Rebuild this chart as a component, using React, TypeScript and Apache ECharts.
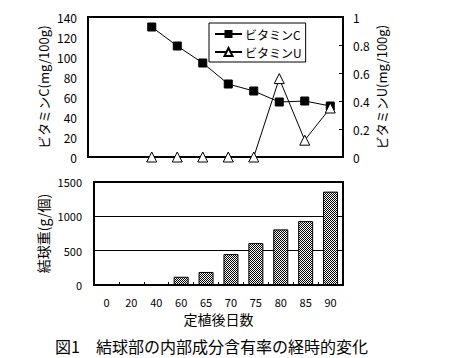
import React, { useEffect, useRef } from 'react';
import * as echarts from 'echarts';

const days = ['0', '20', '40', '60', '65', '70', '75', '80', '85', '90'];
const vitaminC = [null, null, 130, 111, 94, 73, 66, 55, 56, 51];
const vitaminU = [null, null, 0, 0, 0, 0, 0, 0.56, 0.12, 0.35];
const headWeight = [null, null, null, 120, 190, 450, 610, 810, 930, 1360];
const seriesNames = ['ビタミンC', 'ビタミンU'];
const titleText = '図1　結球部の内部成分含有率の経時的変化';

const FONT = '"Noto Sans CJK JP", "Liberation Sans", sans-serif';

function makePattern() {
  const c = document.createElement('canvas');
  c.width = 2;
  c.height = 2;
  const ctx = c.getContext('2d');
  if (ctx) {
    ctx.fillStyle = '#ffffff';
    ctx.fillRect(0, 0, 2, 2);
    ctx.fillStyle = '#000000';
    ctx.fillRect(0, 0, 1, 1);
    ctx.fillRect(1, 1, 1, 1);
  }
  return c;
}

export default function App() {
  const ref = useRef<HTMLDivElement>(null);
  useEffect(() => {
    if (!ref.current) return;
    const chart = echarts.init(ref.current, null, { renderer: 'svg' });
    const pattern = { image: makePattern(), repeat: 'repeat' };
    const txt = { color: '#000', fontFamily: FONT, fontWeight: 'normal' };
    chart.setOption({
      animation: false,
      backgroundColor: '#fff',
      textStyle: txt,
      graphic: [
        {
          type: 'text',
          left: 55,
          top: 338,
          style: { text: titleText, font: `normal 16px ${FONT}`, fill: '#000' },
        },
      ],
      legend: {
        left: 209,
        top: 23,
        orient: 'vertical',
        data: seriesNames,
        itemWidth: 27,
        itemHeight: 10,
        itemGap: 6,
        padding: [5, 4, 4, 5],
        borderColor: '#000',
        borderWidth: 1,
        backgroundColor: '#fff',
        textStyle: { ...txt, fontSize: 12, padding: [0, 0, 0, -2] },
      },
      grid: [
        { left: 88, top: 17, width: 255, height: 140, show: true, borderColor: '#000', borderWidth: 2 },
        { left: 94, top: 182, width: 249, height: 103, show: true, borderColor: '#000', borderWidth: 2 },
      ],
      xAxis: [
        {
          type: 'category',
          gridIndex: 0,
          data: days,
          axisLine: { lineStyle: { color: '#000', width: 2 } },
          axisTick: { show: false },
          axisLabel: { show: false },
        },
        {
          type: 'category',
          gridIndex: 1,
          data: days,
          name: '定植後日数',
          nameLocation: 'middle',
          nameGap: 27,
          nameMoveOverlap: false,
          nameTextStyle: { ...txt, fontSize: 14 },
          axisLine: { lineStyle: { color: '#000', width: 2 } },
          axisTick: { show: true, inside: true, length: 3, lineStyle: { color: '#000' } },
          axisLabel: { ...txt, fontSize: 11, margin: 11 },
        },
      ],
      yAxis: [
        {
          type: 'value',
          gridIndex: 0,
          min: 0,
          max: 140,
          interval: 20,
          name: 'ビタミンC(mg/100g)',
          nameLocation: 'middle',
          nameGap: 38,
          nameMoveOverlap: false,
          nameTextStyle: { ...txt, fontSize: 13 },
          axisLine: { show: true, lineStyle: { color: '#000', width: 2 } },
          axisTick: { show: false },
          axisLabel: { ...txt, fontSize: 12, margin: 11 },
          splitLine: { show: false },
        },
        {
          type: 'value',
          gridIndex: 0,
          position: 'right',
          min: 0,
          max: 1,
          interval: 0.2,
          name: 'ビタミンU(mg/100g)',
          nameLocation: 'middle',
          nameGap: 32,
          nameMoveOverlap: false,
          nameRotate: 90,
          nameTextStyle: { ...txt, fontSize: 13 },
          axisLine: { show: true, lineStyle: { color: '#000', width: 2 } },
          axisTick: { show: true, inside: true, length: 4, lineStyle: { color: '#000' } },
          axisLabel: { ...txt, fontSize: 12, margin: 10 },
          splitLine: { show: false },
        },
        {
          type: 'value',
          gridIndex: 1,
          min: 0,
          max: 1500,
          interval: 500,
          name: '結球重(g/個)',
          nameLocation: 'middle',
          nameGap: 44,
          nameMoveOverlap: false,
          nameTextStyle: { ...txt, fontSize: 14 },
          axisLine: { show: true, lineStyle: { color: '#000', width: 2 } },
          axisTick: { show: false },
          axisLabel: { ...txt, fontSize: 11, margin: 12, formatter: (v: number) => String(v) },
          splitLine: { show: true, lineStyle: { color: '#000', width: 1 } },
        },
      ],
      series: [
        {
          name: seriesNames[0],
          type: 'line',
          xAxisIndex: 0,
          yAxisIndex: 0,
          data: vitaminC,
          symbol: 'rect',
          symbolSize: 8,
          lineStyle: { color: '#000', width: 1 },
          itemStyle: { color: '#000', borderColor: '#000' },
        },
        {
          name: seriesNames[1],
          type: 'line',
          xAxisIndex: 0,
          yAxisIndex: 1,
          data: vitaminU,
          symbol: 'triangle',
          symbolSize: 10,
          clip: false,
          lineStyle: { color: '#000', width: 1 },
          itemStyle: { color: '#fff', borderColor: '#000', borderWidth: 1 },
        },
        {
          name: '結球重',
          type: 'bar',
          xAxisIndex: 1,
          yAxisIndex: 2,
          data: headWeight,
          barWidth: 15,
          itemStyle: { color: pattern, borderColor: '#000', borderWidth: 1 },
        },
      ],
    });
    return () => chart.dispose();
  }, []);
  return <div ref={ref} style={{ width: 450, height: 358, position: 'absolute', left: 0, top: 0 }} />;
}
